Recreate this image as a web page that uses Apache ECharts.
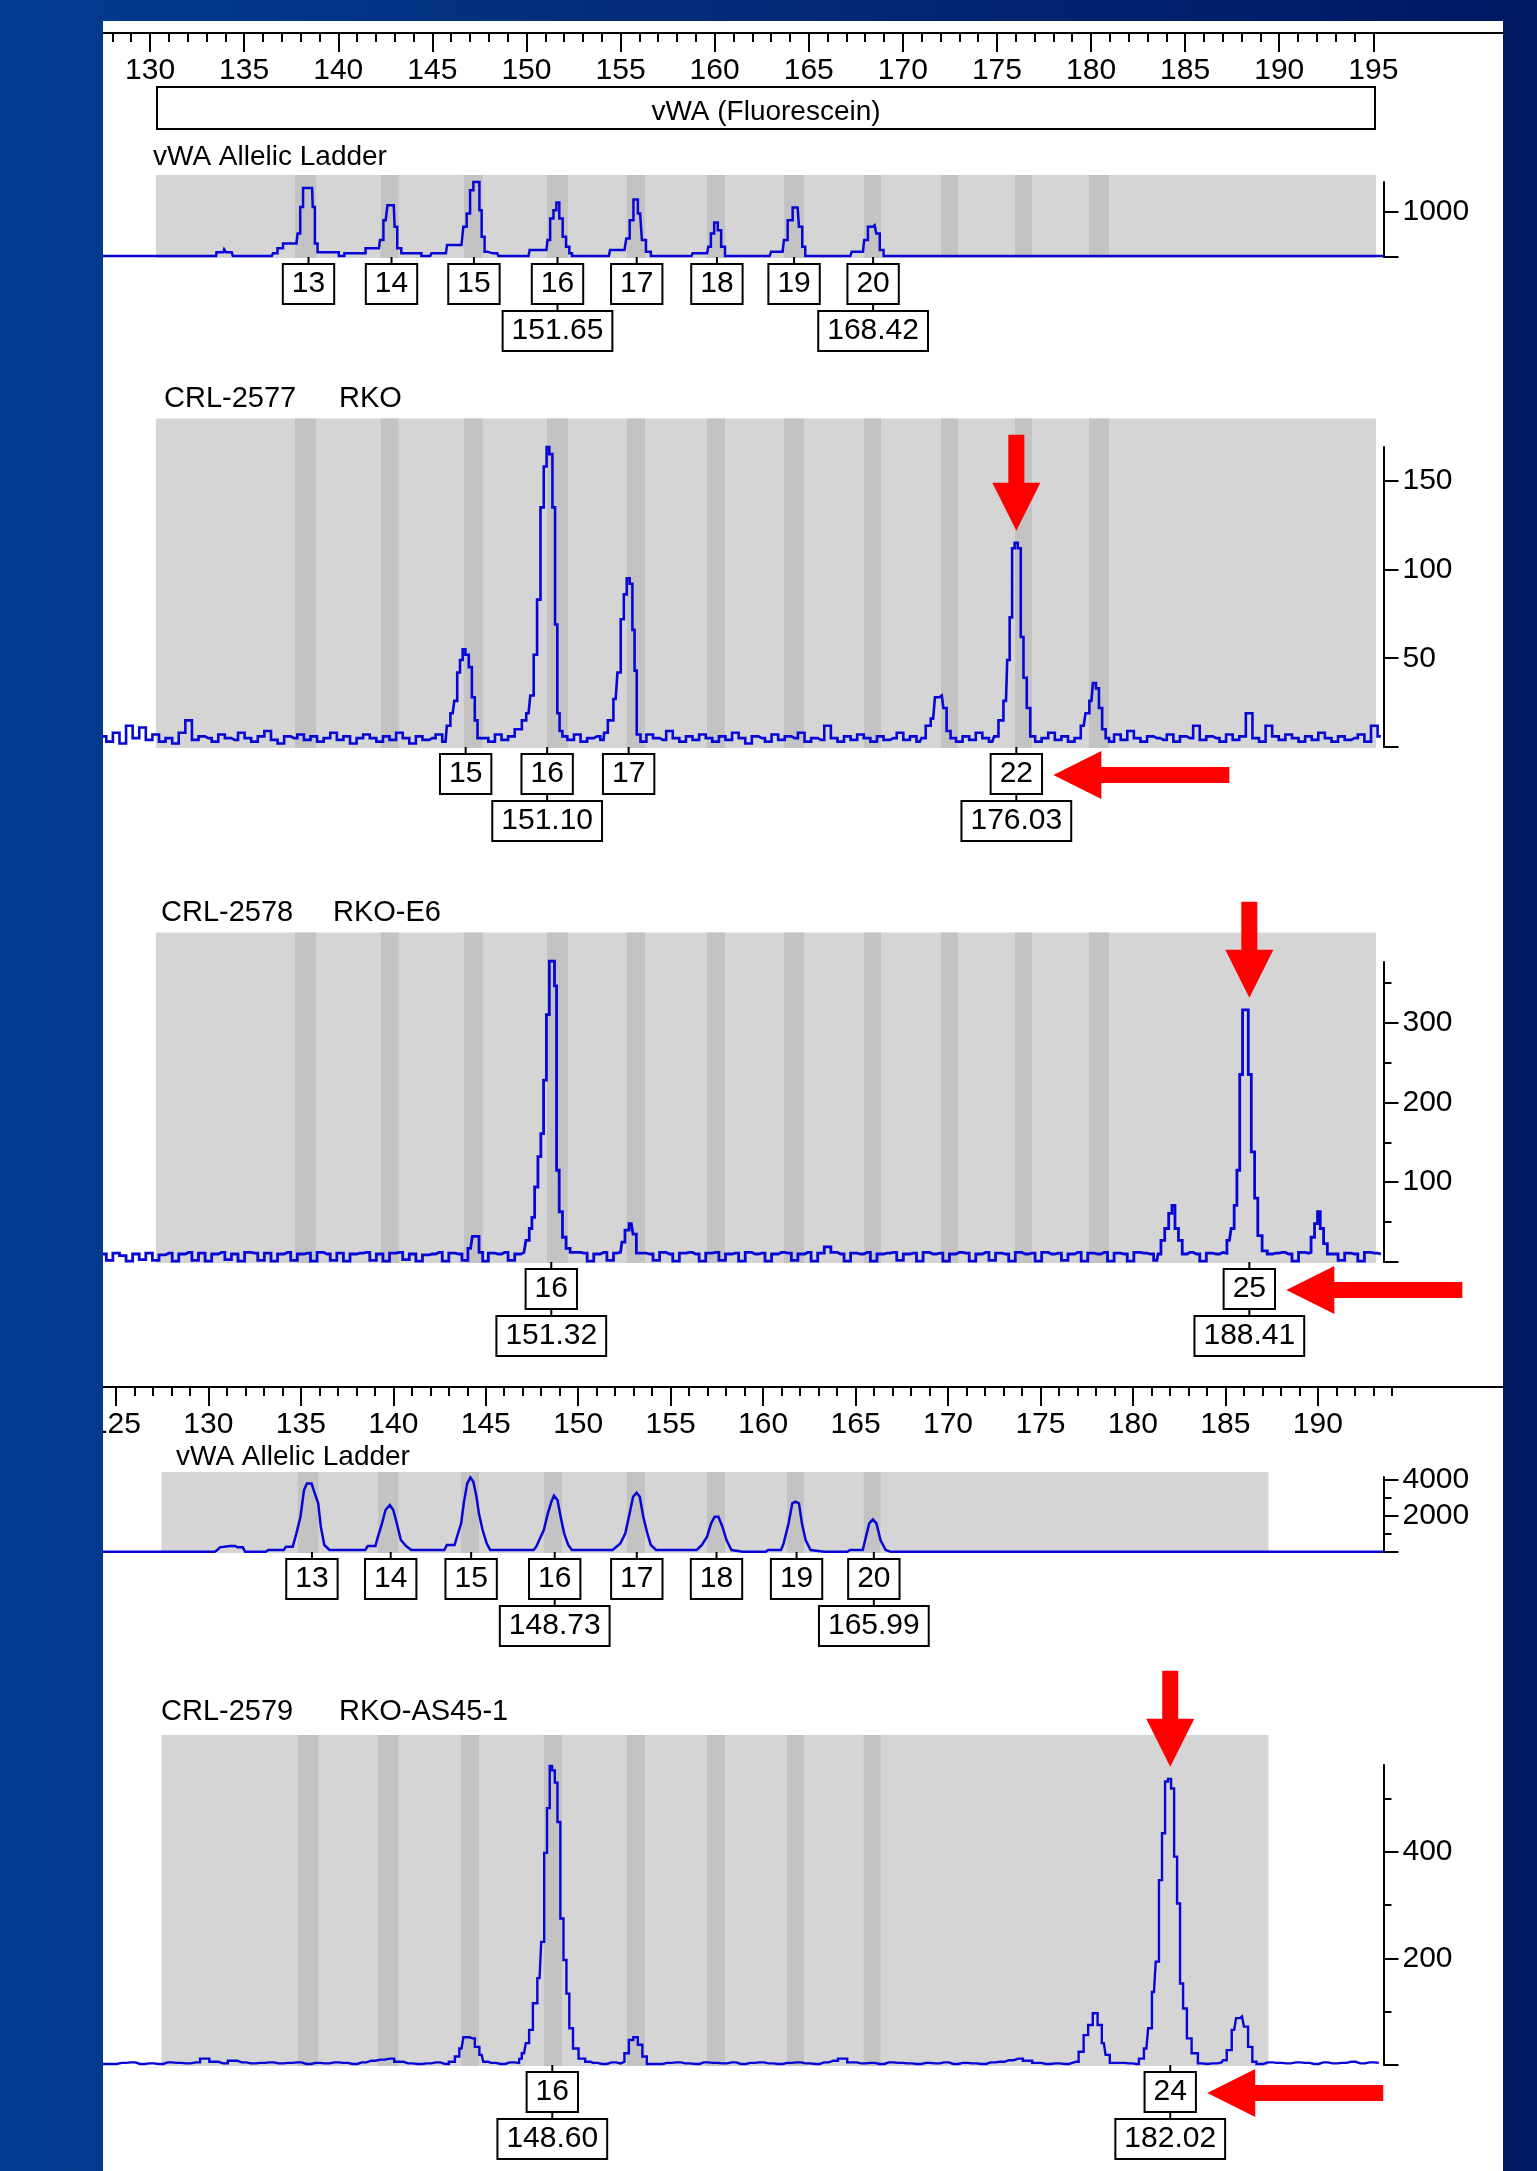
<!DOCTYPE html>
<html>
<head>
<meta charset="utf-8">
<script src="https://cdn.jsdelivr.net/npm/echarts@6/dist/echarts.min.js"></script>
<style>
  html, body { margin: 0; padding: 0; overflow: hidden; background: #022a78; }
  #chart { width: 1537px; height: 2171px; }
</style>
</head>
<body>
<div id="chart"></div>
<script>
// ---------------- data ----------------
// size scale tick labels (bp)
const upperTickMajor = [130, 135, 140, 145, 150, 155, 160, 165, 170, 175, 180, 185, 190, 195];
const lowerTickMajor = [125, 130, 135, 140, 145, 150, 155, 160, 165, 170, 175, 180, 185, 190];

// analysed size window and allele bins (bp)
const upperWindow = [130.31, 195.14];
const lowerWindow = [127.46, 187.33];
const upperBins = [[137.70, 138.82], [142.26, 143.21], [146.67, 147.67], [151.09, 152.20], [155.33, 156.30],
  [159.59, 160.55], [163.69, 164.75], [167.94, 168.84], [172.03, 172.93], [175.96, 176.86], [179.89, 180.95]];
const lowerBins = [[134.84, 135.94], [139.17, 140.28], [143.67, 144.63], [148.14, 149.13], [152.63, 153.61],
  [156.96, 157.94], [161.29, 162.21], [165.44, 166.35]];

// sample identifiers
const sampleIds = ['CRL-2577', 'CRL-2578', 'CRL-2579'];
const sampleNames = ['RKO', 'RKO-E6', 'RKO-AS45-1'];
const ladderName = 'vWA Allelic Ladder';
const markerName = 'vWA (Fluorescein)';

// allelic ladder, upper run: [bp, RFU]
const ladderUpperTrace = [[127.5,22],[133.51,22],[133.55,104],[133.9,104],[133.98,170],[134.1,104],[134.34,104],[134.46,22],
  [136.47,22],[136.59,82],[136.95,193],[137.18,304],[137.78,304],[137.9,526],[138.06,1119],[138.2,1541],[138.61,1541],
  [138.68,1119],[138.84,304],[138.96,104],[139.91,104],[140.15,22],[140.5,82],[141.33,82],[141.57,193],[142.16,193],
  [142.28,378],[142.52,822],[142.71,1156],[142.95,1156],[143.04,674],[143.23,193],[143.47,82],[144.3,82],[144.54,22],
  [144.89,22],[145.01,82],[145.72,82],[145.84,267],[146.55,267],[146.74,674],[146.91,970],[147.1,1489],[147.26,1674],
  [147.45,1674],[147.55,1045],[147.69,452],[147.86,119],[147.98,82],[148.45,82],[148.57,22],[150.11,22],[150.23,156],
  [151.06,156],[151.18,378],[151.34,859],[151.53,1045],[151.65,1215],[151.84,859],[152.01,452],[152.2,230],[152.36,82],
  [152.48,22],[154.38,22],[154.5,156],[155.21,156],[155.4,415],[155.57,822],[155.8,1282],[156.04,970],[156.23,378],
  [156.47,119],[156.75,22],[158.77,22],[158.89,82],[159.6,82],[159.72,230],[159.88,526],[160.07,771],[160.26,600],
  [160.43,230],[160.67,22],[162.92,22],[163.08,119],[163.61,119],[163.75,378],[164.01,822],[164.28,1104],[164.41,1104],
  [164.55,674],[164.76,230],[164.87,22],[167.21,22],[167.35,119],[167.88,119],[168.01,378],[168.28,674],[168.5,711],
  [168.68,526],[168.87,156],[169.08,22],[195.54,22]];
const ladderUpperAlleles = ['13', '14', '15', '16', '17', '18', '19', '20'];
const ladderUpperSizes = [138.42, 142.83, 147.21, 151.65, 155.86, 160.12, 164.22, 168.42];
const ladderUpperSized = [false, false, false, true, false, false, false, true];

// CRL-2577 RKO: baseline samples every 0.35 bp from 127.5, and peaks [bp, RFU]
const rkoNoise = [6,3,8,2,12,5,11,4,7,3, 5,2,8,15,4,6,5,3,7,5, 4,8,5,3,6,9,4,2,6,5, 7,4,6,3,5,8,4,6,2,5,
  7,5,3,6,4,8,5,2,6,4, 5,7,3,5,9,4,2,6,5,3, 7,4,6,10,5,3,6,4,5,2, 6,4,7,3,5,6,4,8,5,3,
  4,6,3,7,5,4,9,5,3,6, 4,7,5,3,6,4,8,5,2,6, 5,3,7,4,6,5,8,3,5,4, 12,5,3,6,4,7,5,3,6,4,
  5,8,4,6,3,5,7,4,6,5, 3,6,4,8,5,3,6,4,7,5, 4,6,3,5,8,4,6,3,5,7, 4,6,5,3,7,4,9,5,3,6,
  5,4,7,3,6,5,12,4,6,5, 3,7,4,6,19,5,3,12,6,4, 7,5,3,6,4,8,5,3,6,4, 5,7,3,12,6];
const rkoPeaks = [
  [[145.84,12],[146.08,19],[146.25,26],[146.39,42],[146.55,49],[146.67,55],[146.84,52],[147.03,45],[147.17,28],[147.34,15],[147.46,5]],
  [[149.64,10],[149.87,15],[150.11,19],[150.3,29],[150.47,52],[150.66,83],[150.83,135],[151.01,158],[151.13,169],[151.3,165],[151.46,135],[151.58,69],[151.7,19],[151.82,9]],
  [[154.15,8],[154.5,15],[154.74,27],[154.93,42],[155.09,72],[155.26,86],[155.4,95],[155.57,92],[155.69,66],[155.8,43],[155.92,7]],
  [[171.08,5],[171.35,12],[171.61,16],[171.8,28],[172.07,29],[172.23,22],[172.42,9]],
  [[174.95,6],[175.21,15],[175.48,26],[175.61,49],[175.74,73],[175.87,112],[176.01,115],[176.2,112],[176.33,62],[176.49,39],[176.68,22],[176.86,6]],
  [[179.61,12],[179.8,19],[180.02,26],[180.18,36],[180.34,33],[180.5,22],[180.68,10],[180.87,5]]
];
const rkoAlleles = ['15', '16', '17', '22'];
const rkoSizes = [146.77, 151.10, 155.43, 176.03];
const rkoSized = [false, true, false, true];

// CRL-2578 RKO-E6
const e6Noise = [10,2,11,8,1,10,3,11,2,9, 11,1,10,12,2,11,1,10,12,3, 10,1,12,11,2,11,1,10,12,2, 10,11,1,12,10,2,11,1,10,11,
  12,2,10,1,11,12,3,10,1,9, 10,12,1,11,10,2,12,10,1,11, 10,12,2,10,11,1,10,12,2,11, 1,10,12,11,1,10,12,2,11,10,
  12,1,11,10,2,12,10,1,11,12, 10,1,11,12,2,10,11,1,12,10, 11,1,10,12,11,2,10,12,1,11, 19,12,10,1,11,10,12,1,10,11,
  12,2,10,11,1,12,10,11,1,10, 12,11,1,10,12,2,11,10,1,12, 10,11,1,12,10,11,2,10,12,1, 11,10,12,1,11,10,1,12,11,10,
  2,12,10,1,11,12,10,1,11,10, 12,1,10,11,12,2,10,1,11,12, 10,1,12,11,1,10,12,10,2,11, 10,1,12,11,10];
const e6Peaks = [
  [[147.03,17],[147.22,32],[147.41,32],[147.55,12]],
  [[149.87,12],[150.07,27],[150.23,42],[150.35,56],[150.52,94],[150.7,132],[150.83,161],[150.99,228],[151.13,310],[151.3,377],[151.44,377],[151.54,346],[151.66,115],[151.82,63],[152.01,31],[152.2,17],[152.44,12]],
  [[155.0,12],[155.14,25],[155.33,40],[155.57,48],[155.76,35],[155.92,11]],
  [[183.62,10],[183.81,27],[184.02,42],[184.23,61],[184.37,71],[184.55,42],[184.74,27],[184.95,10]],
  [[187.09,11],[187.35,27],[187.54,42],[187.67,71],[187.83,115],[187.97,235],[188.13,316],[188.29,316],[188.42,235],[188.61,138],[188.77,80],[188.95,33],[189.23,14],[189.49,10]],
  [[191.6,12],[191.78,31],[191.97,48],[192.1,63],[192.26,42],[192.45,23],[192.66,10]]
];
const e6Alleles = ['16', '25'];
const e6Sizes = [151.32, 188.41];
const e6Sized = [true, true];

// allelic ladder, lower run
const ladderLowerTrace = [[124.3,10],[130.34,10],[130.48,111],[130.62,258],[131.17,333],[131.44,333],[131.58,258],[131.86,258],
  [131.99,10],[133.1,10],[133.24,111],[134.07,111],[134.2,296],[134.56,296],[134.76,1037],[134.98,1963],[135.17,3444],
  [135.33,3815],[135.58,3815],[135.72,3352],[135.94,2704],[136.08,1407],[136.27,389],[136.55,111],[138.48,111],[138.62,333],
  [139.03,333],[139.17,852],[139.39,1593],[139.58,2333],[139.81,2611],[140.0,2333],[140.19,1593],[140.41,667],[140.69,333],
  [140.97,111],[142.76,111],[142.9,389],[143.31,389],[143.45,852],[143.67,1593],[143.81,2704],[144.0,3815],[144.17,4150],
  [144.33,3907],[144.5,3074],[144.63,2148],[144.83,1222],[145.05,481],[145.24,111],[147.59,111],[147.73,296],[148.14,1222],
  [148.36,2148],[148.55,2796],[148.69,3129],[148.88,2889],[149.05,1963],[149.24,1037],[149.46,389],[149.66,111],[151.86,111],
  [152.28,481],[152.55,1037],[152.78,2148],[152.97,3074],[153.16,3296],[153.33,3074],[153.52,1963],[153.74,1037],[153.93,389],
  [154.21,111],[156.41,111],[156.69,389],[156.97,852],[157.19,1593],[157.38,1963],[157.58,1963],[157.8,1407],[158.02,667],
  [158.29,111],[158.9,10],[160.14,10],[160.28,111],[160.97,111],[161.11,481],[161.38,1593],[161.58,2704],[161.74,2796],
  [161.94,2704],[162.1,1593],[162.3,667],[162.57,111],[163.31,10],[164.56,10],[164.7,111],[165.39,111],[165.52,667],
  [165.74,1593],[165.94,1815],[166.13,1593],[166.35,667],[166.63,111],[166.9,10],[193.55,10]];
const ladderLowerAlleles = ['13', '14', '15', '16', '17', '18', '19', '20'];
const ladderLowerSizes = [135.60, 139.86, 144.21, 148.73, 153.17, 157.48, 161.81, 165.99];
const ladderLowerSized = [false, false, false, true, false, false, false, true];

// CRL-2579 RKO-AS45-1: baseline samples every 0.5 bp from 124.3
const as45Noise = [2,2,4,5,2,3,2,5,4,3, 5,12,6,3,8,5,3,4,5,3, 4,5,2,4,3,5,4,2,5,8, 10,12,6,3,2,3,5,2,4,6,
  3,5,4,2,5,4,6,3,5,2, 4,3,5,4,2,5,3,4,6,3, 2,4,5,3,2,5,4,3,5,2, 4,5,3,2,4,5,3,2,5,8,
  12,5,3,4,2,5,4,3,2,4, 3,5,2,4,3,2,5,6,9,12, 8,4,2,3,2,5,4,6,3,2, 4,3,2,5,4,3,2,4,5,2,
  3,5,2,4,6,2,5,4,3,5, 4,2,5,3,4,6,3,5,4];
const as45Peaks = [
  [[143.21,6],[143.45,16],[143.69,31],[143.89,52],[144.12,52],[144.29,50],[144.53,34],[144.78,19],[144.95,6]],
  [[146.83,12],[147.07,22],[147.26,41],[147.43,66],[147.67,116],[147.91,163],[148.09,231],[148.23,398],[148.4,482],[148.52,561],[148.66,553],[148.81,530],[148.95,456],[149.12,275],[149.29,197],[149.44,134],[149.6,69],[149.84,31],[150.2,12],[150.56,6]],
  [[152.38,6],[152.62,22],[152.86,47],[153.1,52],[153.35,38],[153.59,16],[153.83,2]],
  [[176.93,6],[177.2,25],[177.47,56],[177.69,75],[177.97,97],[178.21,75],[178.43,41],[178.61,19],[178.89,4]],
  [[180.19,2],[180.46,12],[180.73,31],[180.92,69],[181.14,137],[181.33,194],[181.49,347],[181.66,435],[181.82,532],[181.98,537],[182.15,519],[182.31,391],[182.47,303],[182.63,153],[182.8,106],[183.04,50],[183.31,22],[183.72,3]],
  [[184.94,9],[185.21,28],[185.48,66],[185.68,88],[185.9,91],[186.11,72],[186.35,34],[186.57,6]]
];
const as45Alleles = ['16', '24'];
const as45Sizes = [148.60, 182.02];
const as45Sized = [true, true];

// RFU axis ticks
const ladderUpperTicks = [0, 1000], ladderUpperTickLabels = [1000], ladderUpperMinor = [];
const rkoTicks = [0, 50, 100, 150], rkoTickLabels = [50, 100, 150], rkoMinor = [];
const e6Ticks = [0, 100, 200, 300], e6TickLabels = [100, 200, 300], e6Minor = [50, 150, 250, 350];
const ladderLowerTicks = [0, 2000, 4000], ladderLowerTickLabels = [2000, 4000], ladderLowerMinor = [1000, 3000];
const as45Ticks = [0, 200, 400], as45TickLabels = [200, 400], as45Minor = [100, 300, 500];

// ---------------- helpers ----------------
// baseline samples outside peak spans, joined with the peak outlines
function joinTrace(start, step, baseline, peaks) {
  const pts = [];
  baseline.forEach((v, i) => {
    const x = +(start + i * step).toFixed(3);
    const inPeak = peaks.some(p => x >= p[0][0] && x <= p[p.length - 1][0]);
    if (!inPeak) pts.push([x, v]);
  });
  peaks.forEach(p => p.forEach(q => pts.push(q)));
  pts.sort((a, b) => a[0] - b[0]);
  return pts;
}

const FONT = '"Liberation Sans", Arial, sans-serif';
const TRACE = '#0606d6';
const PLOT_LEFT = 103, PLOT_W = 1280.5;
const upperScale = { min: 127.5, max: 127.5 + PLOT_W / 18.82 };
const lowerScale = { min: 124.3, max: 124.3 + PLOT_W / 18.49 };
const plain = v => String(v);

const panels = [
  { scale: upperScale, win: upperWindow, bins: upperBins, top: 182, height: 75, yMax: 1675, pad: 7, lw: 2.5,
    trace: ladderUpperTrace, step: 'middle', ticks: ladderUpperTicks, labels: ladderUpperTickLabels, minor: ladderUpperMinor,
    alleles: ladderUpperAlleles, sizes: ladderUpperSizes, sized: ladderUpperSized },
  { scale: upperScale, win: upperWindow, bins: upperBins, top: 447, height: 300, yMax: 169, pad: 28.5, lw: 2.6,
    trace: joinTrace(127.5, 0.35, rkoNoise, rkoPeaks), step: 'middle', ticks: rkoTicks, labels: rkoTickLabels, minor: rkoMinor,
    alleles: rkoAlleles, sizes: rkoSizes, sized: rkoSized, called: '22' },
  { scale: upperScale, win: upperWindow, bins: upperBins, top: 962, height: 300, yMax: 376, pad: 29.5, lw: 2.8,
    trace: joinTrace(127.5, 0.35, e6Noise, e6Peaks), step: 'middle', ticks: e6Ticks, labels: e6TickLabels, minor: e6Minor,
    alleles: e6Alleles, sizes: e6Sizes, sized: e6Sized, called: '25' },
  { scale: lowerScale, win: lowerWindow, bins: lowerBins, top: 1477, height: 75, yMax: 4170, pad: 5, lw: 2.5,
    trace: ladderLowerTrace, step: false, ticks: ladderLowerTicks, labels: ladderLowerTickLabels, minor: ladderLowerMinor,
    alleles: ladderLowerAlleles, sizes: ladderLowerSizes, sized: ladderLowerSized },
  { scale: lowerScale, win: lowerWindow, bins: lowerBins, top: 1765, height: 300, yMax: 563, pad: 30, lw: 2.4,
    trace: joinTrace(124.3, 0.5, as45Noise, as45Peaks), step: 'middle', ticks: as45Ticks, labels: as45TickLabels, minor: as45Minor,
    alleles: as45Alleles, sizes: as45Sizes, sized: as45Sized, called: '24' }
];

const grid = [
  { left: PLOT_LEFT, top: 23, width: 1400, height: 10 },      // upper size ruler
  { left: PLOT_LEFT, top: 1377, width: 1400, height: 10 }     // lower size ruler
];
const xAxis = [];
const yAxis = [];
const series = [];

function rulerAxes(gridIndex, min, pxPerBp, majors, minorFrom, minorTo) {
  const max = min + 1400 / pxPerBp;
  const minors = [];
  for (let v = minorFrom; v <= minorTo; v++) minors.push(v);
  xAxis.push({
    gridIndex, type: 'value', min, max, position: 'bottom',
    axisLine: { show: true, onZero: false, lineStyle: { color: '#000', width: 2 } },
    axisTick: { show: true, length: 19, customValues: majors, lineStyle: { color: '#000', width: 2 } },
    axisLabel: { show: true, customValues: majors, formatter: plain, margin: 23, color: '#000', fontSize: 30, fontFamily: FONT },
    splitLine: { show: false }
  });
  xAxis.push({
    gridIndex, type: 'value', min, max, position: 'bottom',
    axisLine: { show: false },
    axisTick: { show: true, length: 9, customValues: minors, lineStyle: { color: '#000', width: 2 } },
    axisLabel: { show: false }, splitLine: { show: false }
  });
  yAxis.push({ gridIndex, type: 'value', min: 0, max: 1, show: false });
}
rulerAxes(0, upperScale.min, 18.82, upperTickMajor, 128, 195);
rulerAxes(1, lowerScale.min, 18.49, lowerTickMajor, 125, 194);

function boxText(text, x, y) {
  return {
    type: 'text', x, y,
    style: {
      text, align: 'center', verticalAlign: 'top', fill: '#000',
      fontSize: 30, fontFamily: FONT, lineHeight: 30,
      backgroundColor: '#fff', borderColor: '#000', borderWidth: 2, padding: [4, 8, 4, 8]
    }
  };
}

panels.forEach((p, i) => {
  const g = 2 + i;
  grid.push({ left: PLOT_LEFT, top: p.top, width: PLOT_W, height: p.height });
  xAxis.push({ gridIndex: g, type: 'value', min: p.scale.min, max: p.scale.max, show: false });
  const xi = xAxis.length - 1;
  yAxis.push({
    gridIndex: g, type: 'value', min: 0, max: p.yMax, position: 'right',
    axisLine: { show: true, onZero: false, lineStyle: { color: '#000', width: 2 } },
    axisTick: { show: true, inside: false, length: 15, customValues: p.ticks, lineStyle: { color: '#000', width: 2 } },
    axisLabel: { show: true, customValues: p.labels, formatter: plain, margin: 19, color: '#000', fontSize: 30, fontFamily: FONT },
    splitLine: { show: false }
  });
  const yi = yAxis.length - 1;
  yAxis.push({
    gridIndex: g, type: 'value', min: 0, max: p.yMax, position: 'right',
    axisLine: { show: false },
    axisTick: { show: p.minor.length > 0, inside: false, length: 8, customValues: p.minor, lineStyle: { color: '#000', width: 2 } },
    axisLabel: { show: false }, splitLine: { show: false }
  });

  // analysed window and allele bins
  series.push({
    type: 'custom', xAxisIndex: xi, yAxisIndex: yi, clip: false, silent: true, z: 1,
    data: [[p.win[0], p.win[1], 0]].concat(p.bins.map(b => [b[0], b[1], 1])),
    encode: { x: [0, 1] },
    renderItem(params, api) {
      const cs = params.coordSys;
      const x0 = api.coord([api.value(0), 0])[0];
      const x1 = api.coord([api.value(1), 0])[0];
      const top = cs.y - p.pad, bottom = cs.y + cs.height + 1;
      return {
        type: 'rect', shape: { x: x0, y: top, width: x1 - x0, height: bottom - top },
        style: { fill: api.value(2) ? '#c3c3c3' : '#d5d5d5' }
      };
    }
  });

  // electropherogram trace
  series.push({
    type: 'line', xAxisIndex: xi, yAxisIndex: yi, data: p.trace, step: p.step,
    showSymbol: false, clip: false, silent: true, z: 3,
    lineStyle: { color: TRACE, width: p.lw, join: 'miter' }
  });

  // allele calls, sizes and arrows pointing at the called allele
  const calledIdx = p.called ? p.alleles.indexOf(p.called) : -1;
  let peakTop = 0;
  if (calledIdx >= 0) {
    const s = p.sizes[calledIdx];
    p.trace.forEach(pt => { if (Math.abs(pt[0] - s) < 0.5 && pt[1] > peakTop) peakTop = pt[1]; });
  }
  series.push({
    type: 'custom', xAxisIndex: xi, yAxisIndex: yi, clip: false, silent: true, z: 5,
    data: p.sizes.map((s, k) => [s, k]),
    encode: { x: 0 },
    renderItem(params, api) {
      const k = api.value(1);
      const size = api.value(0);
      const x = api.coord([size, 0])[0];
      const cs = params.coordSys;
      const base = cs.y + cs.height;
      const t1 = base + 8, t2 = t1 + 47, boxH = 40;
      const kids = [
        { type: 'line', shape: { x1: x, y1: base, x2: x, y2: t1 }, style: { stroke: '#000', lineWidth: 2 } },
        boxText(p.alleles[k], x, t1)
      ];
      if (p.sized[k]) {
        kids.push({ type: 'line', shape: { x1: x, y1: t1 + boxH, x2: x, y2: t2 }, style: { stroke: '#000', lineWidth: 2 } });
        kids.push(boxText(p.sizes[k].toFixed(2), x, t2));
      }
      if (k === calledIdx) {
        const tip = api.coord([size, peakTop]);
        const tx = x, ty = tip[1] - 12;
        kids.push({ type: 'polygon', shape: { points: [[tx - 8, ty - 96], [tx + 8, ty - 96], [tx + 8, ty - 48], [tx + 24, ty - 48],
          [tx, ty], [tx - 24, ty - 48], [tx - 8, ty - 48]] }, style: { fill: '#ff0000' } });
        const lx = x + 37, ly = t1 + 20;
        kids.push({ type: 'polygon', shape: { points: [[lx, ly], [lx + 48, ly - 24], [lx + 48, ly - 8], [lx + 176, ly - 8],
          [lx + 176, ly + 8], [lx + 48, ly + 8], [lx + 48, ly + 24]] }, style: { fill: '#ff0000' } });
      }
      return { type: 'group', children: kids };
    }
  });
});

const frame = {
  type: 'linear', x: 0, y: 0, x2: 1537, y2: 0, global: true,
  colorStops: [{ offset: 0, color: '#033c8f' }, { offset: 1, color: '#011762' }]
};
function label(text, x, y, size, align) {
  return { type: 'text', x, y, z: 10, silent: true,
    style: { text, fontSize: size, fontFamily: FONT, fill: '#000', align: align || 'left', verticalAlign: 'middle' } };
}

const graphic = [
  { type: 'rect', z: -20, silent: true, shape: { x: 0, y: 0, width: 1537, height: 2171 }, style: { fill: frame } },
  { type: 'rect', z: -19, silent: true, shape: { x: 103, y: 21, width: 1400, height: 2150 }, style: { fill: '#ffffff' } },
  { type: 'rect', z: 5, silent: true, shape: { x: 157, y: 87, width: 1218, height: 42 }, style: { fill: '#ffffff', stroke: '#000', lineWidth: 2 } },
  label(markerName, 766, 112, 28, 'center'),
  label(ladderName, 153, 157, 28),
  label(sampleIds[0], 164, 399, 29), label(sampleNames[0], 339, 399, 29),
  label(sampleIds[1], 161, 913, 29), label(sampleNames[1], 333, 913, 29),
  label(ladderName, 176, 1457, 28),
  label(sampleIds[2], 161, 1712, 29), label(sampleNames[2], 339, 1712, 29),
  { type: 'rect', z: 50, silent: true, shape: { x: 0, y: 0, width: 103, height: 2171 }, style: { fill: frame } }
];

const chart = echarts.init(document.getElementById('chart'), null, { renderer: 'canvas', width: 1537, height: 2171 });
chart.setOption({
  animation: false,
  grid, xAxis, yAxis, series,
  graphic: { elements: graphic }
});
</script>
</body>
</html>
